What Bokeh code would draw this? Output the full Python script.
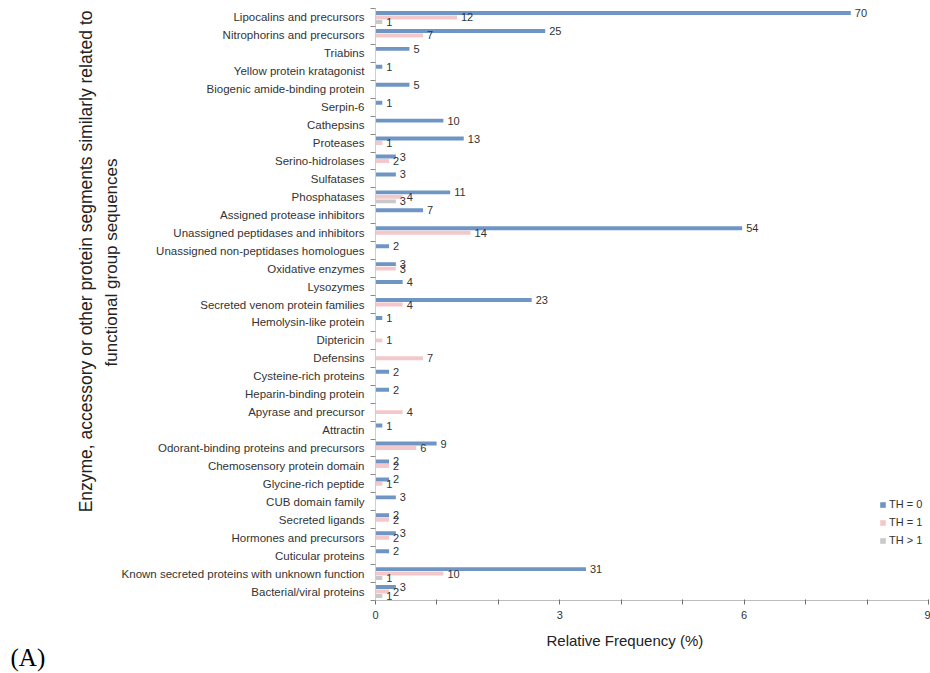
from bokeh.plotting import figure
from bokeh.models import ColumnDataSource, FixedTicker, Range1d, Title
from bokeh.embed import file_html
from bokeh.resources import INLINE

# Functional groups, listed top to bottom
categories = [
    "Lipocalins and precursors",
    "Nitrophorins and precursors",
    "Triabins",
    "Yellow protein kratagonist",
    "Biogenic amide-binding protein",
    "Serpin-6",
    "Cathepsins",
    "Proteases",
    "Serino-hidrolases",
    "Sulfatases",
    "Phosphatases",
    "Assigned protease inhibitors",
    "Unassigned peptidases and inhibitors",
    "Unassigned non-peptidases homologues",
    "Oxidative enzymes",
    "Lysozymes",
    "Secreted venom protein families",
    "Hemolysin-like protein",
    "Diptericin",
    "Defensins",
    "Cysteine-rich proteins",
    "Heparin-binding protein",
    "Apyrase and precursor",
    "Attractin",
    "Odorant-binding proteins and precursors",
    "Chemosensory protein domain",
    "Glycine-rich peptide",
    "CUB domain family",
    "Secreted ligands",
    "Hormones and precursors",
    "Cuticular proteins",
    "Known secreted proteins with unknown function",
    "Bacterial/viral proteins",
]

# Number of sequences per group for each threshold class
th0_counts = [70, 25, 5, 1, 5, 1, 10, 13, 3, 3, 11, 7, 54, 2, 3, 4, 23, 1, 0, 0,
              2, 2, 0, 1, 9, 2, 2, 3, 2, 3, 2, 31, 3]
th1_counts = [12, 7, 0, 0, 0, 0, 0, 1, 2, 0, 4, 0, 14, 0, 3, 0, 4, 0, 1, 7,
              0, 0, 4, 0, 6, 2, 1, 0, 2, 2, 0, 10, 2]
thgt1_counts = [1, 0, 0, 0, 0, 0, 0, 0, 0, 0, 3, 0, 0, 0, 0, 0, 0, 0, 0, 0,
                0, 0, 0, 0, 0, 0, 0, 0, 0, 0, 0, 1, 1]

# Total number of sequences the relative frequencies refer to
total_sequences = 905

series_names = ["TH = 0", "TH = 1", "TH > 1"]
series_colors = ["#6f95c5", "#f4c8ca", "#c9c9c9"]
series_offsets = [-0.25, 0.0, 0.25]

x_major_ticks = [0, 3, 6, 9]
x_minor_ticks = [1, 2, 4, 5, 7, 8]

n = len(categories)
positions = list(range(n))

p = figure(
    width=930, height=673,
    x_range=Range1d(0, 9), y_range=Range1d(n - 0.5, -0.5),
    output_backend="svg", toolbar_location=None,
    min_border_left=375, min_border_right=2,
    min_border_top=8, min_border_bottom=73,
)
p.outline_line_color = None
p.xgrid.visible = False
p.ygrid.visible = False
p.background_fill_color = "white"
p.border_fill_color = "white"

label_font = "Liberation Sans"

for name, counts, color, off in zip(series_names,
                                    [th0_counts, th1_counts, thgt1_counts],
                                    series_colors, series_offsets):
    keep = [i for i, c in enumerate(counts) if c > 0]
    src = ColumnDataSource(dict(
        y=[positions[i] + off for i in keep],
        freq=[counts[i] / total_sequences * 100 for i in keep],
        label=[str(counts[i]) for i in keep],
    ))
    p.hbar(y="y", left=0, right="freq", height=0.22, source=src,
           fill_color=color, line_color=None, legend_label=name)
    p.text(x="freq", y="y", text="label", source=src,
           x_offset=4, text_baseline="middle", text_align="left",
           text_font_size="11px", text_color="#333333",
           text_font={"value": label_font})

# Category axis: labels at group centres, small ticks between groups
yax = p.yaxis[0]
yax.ticker = FixedTicker(ticks=positions,
                         minor_ticks=[i + 0.5 for i in range(-1, n)])
yax.major_label_overrides = {i: c for i, c in zip(positions, categories)}
yax.major_tick_line_color = None
yax.major_tick_out = 0
yax.major_tick_in = 0
yax.minor_tick_line_color = "#8a8a8a"
yax.minor_tick_out = 5
yax.minor_tick_in = 0
yax.axis_line_color = "#cfcfcf"
yax.major_label_standoff = 6
yax.major_label_text_font_size = "11.5px"
yax.major_label_text_color = "#333333"
yax.major_label_text_font = label_font

# Frequency axis (a blank axis label keeps a little room under the tick labels)
xax = p.xaxis[0]
xax.ticker = FixedTicker(ticks=x_major_ticks, minor_ticks=x_minor_ticks)
xax.axis_line_color = "#bdbdbd"
xax.major_tick_line_color = "#6f6f6f"
xax.minor_tick_line_color = "#6f6f6f"
xax.major_tick_out = 4
xax.major_tick_in = 1
xax.minor_tick_out = 4
xax.minor_tick_in = 1
xax.major_label_standoff = 6
xax.major_label_text_font_size = "11px"
xax.major_label_text_color = "#333333"
xax.major_label_text_font = label_font
xax.axis_label = " "
xax.axis_label_text_font_size = "1px"
xax.axis_label_standoff = 3

# Axis titles, set in the side panels
p.add_layout(Title(text="Relative Frequency (%)", align="left", offset=171,
                   vertical_align="middle", standoff=5,
                   text_font_size="15px", text_font_style="normal",
                   text_color="#222222", text_font=label_font), "below")
p.add_layout(Title(text="functional group sequences", align="right", offset=150,
                   vertical_align="middle", standoff=-6,
                   text_font_size="17px", text_font_style="normal",
                   text_color="#222222", text_font=label_font), "left")
p.add_layout(Title(text="Enzyme, accessory or other protein segments similarly related to",
                   align="right", offset=2, vertical_align="middle", standoff=13,
                   text_font_size="17.5px", text_font_style="normal",
                   text_color="#222222", text_font=label_font), "left")

# Panel tag in the lower-left corner
p.add_layout(Title(text="(A)", align="left", offset=-365,
                   vertical_align="middle", standoff=-20,
                   text_font_size="25px", text_font_style="normal",
                   text_color="#000000", text_font="Liberation Serif"), "below")

# Legend
leg = p.legend[0]
leg.location = (504, 51)
leg.padding = 0
leg.margin = 0
leg.spacing = 0
leg.border_line_color = None
leg.background_fill_alpha = 0
leg.glyph_width = 7
leg.glyph_height = 7
leg.label_height = 18
leg.label_standoff = 3
leg.label_text_font_size = "11px"
leg.label_text_color = "#333333"
leg.label_text_font = label_font

open("out.html", "w").write(file_html(p, INLINE))
